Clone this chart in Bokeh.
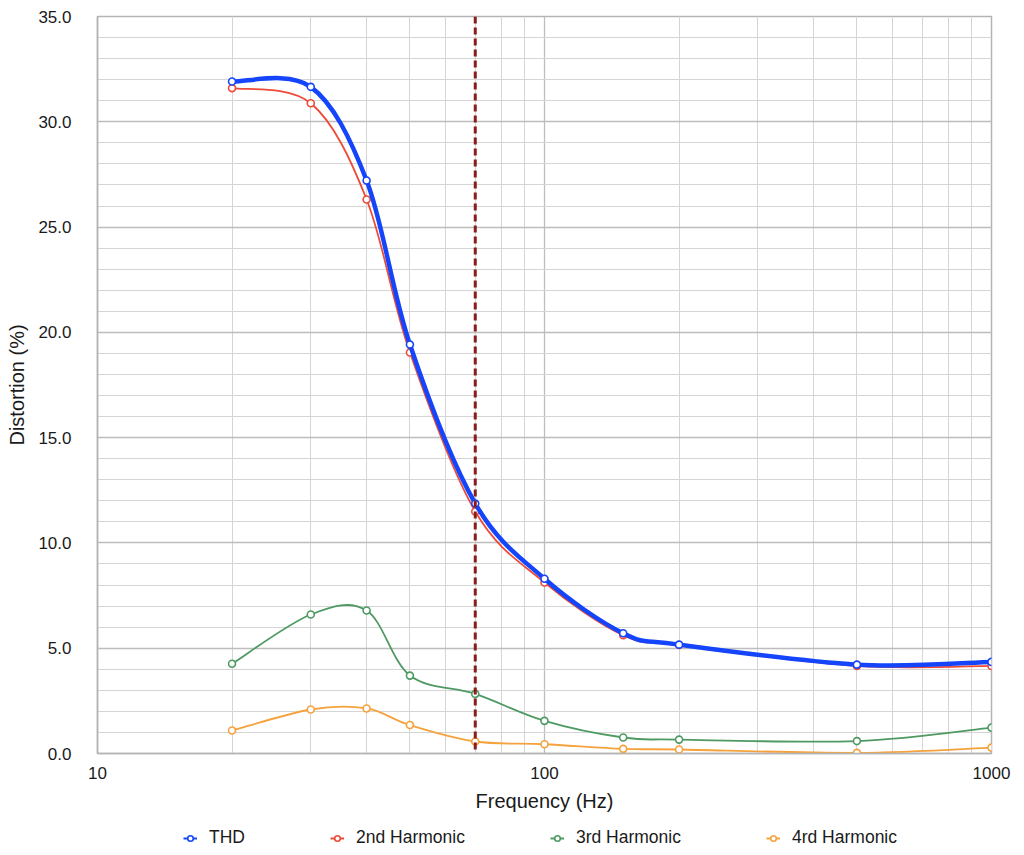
import numpy as np
from bokeh.plotting import figure
from bokeh.layouts import column
from bokeh.models import (Span, Legend, LegendItem, SingleIntervalTicker, FixedTicker,
                          PrintfTickFormatter, ColumnDataSource, Range1d)
from bokeh.embed import file_html
from bokeh.resources import INLINE

# ---------------- data ----------------
freq = [20, 30, 40, 50, 70, 100, 150, 200, 500, 1000]
thd = [31.91, 31.66, 27.21, 19.42, 11.87, 8.30, 5.71, 5.17, 4.22, 4.35]
harm2 = [31.60, 30.88, 26.31, 19.04, 11.49, 8.12, 5.62, 5.15, 4.16, 4.16]
harm3 = [4.26, 6.60, 6.79, 3.70, 2.83, 1.55, 0.76, 0.66, 0.59, 1.23]
harm4 = [1.09, 2.09, 2.14, 1.35, 0.57, 0.44, 0.22, 0.19, 0.03, 0.28]
series_names = ["THD", "2nd Harmonic", "3rd Harmonic", "4rd Harmonic"]
series_colors = ["#1545FA", "#EE4A38", "#4E9A62", "#F5A23C"]
series_widths = [4.5, 1.8, 1.8, 1.8]
marker_freq = 70
x_major_ticks = [10, 100, 1000]
x_minor_ticks = [20, 30, 40, 50, 60, 70, 80, 90, 200, 300, 400, 500, 600, 700, 800, 900]

FONT = "Liberation Sans"
TXT = "#1a1a1a"

p = figure(width=1024, height=821, x_axis_type="log", x_range=(10, 1000), y_range=(0, 35),
           output_backend="svg", toolbar_location=None,
           min_border_left=97, min_border_right=33, min_border_top=16, min_border_bottom=68)
p.background_fill_color = "white"
p.border_fill_color = "white"
p.outline_line_color = "#b4b4b4"
p.outline_line_width = 1.5

# axes
p.xaxis.ticker = FixedTicker(ticks=x_major_ticks, minor_ticks=x_minor_ticks)
p.xaxis.formatter = PrintfTickFormatter(format="%d")
p.yaxis.ticker = SingleIntervalTicker(interval=5, num_minor_ticks=5)
p.yaxis.formatter = PrintfTickFormatter(format="%.1f")
for ax in (p.xaxis[0], p.yaxis[0]):
    ax.major_tick_line_color = None
    ax.minor_tick_line_color = None
    ax.axis_line_color = "#b4b4b4"
    ax.axis_line_width = 1.5
    ax.major_label_text_font = FONT
    ax.major_label_text_font_size = "17px"
    ax.major_label_text_color = TXT
    ax.axis_label_text_font = FONT
    ax.axis_label_text_font_size = "20px"
    ax.axis_label_text_font_style = "normal"
    ax.axis_label_text_color = TXT
p.xaxis.axis_label = "Frequency (Hz)"
p.yaxis.axis_label = "Distortion (%)"
p.xaxis.major_label_standoff = 7
p.xaxis.axis_label_standoff = 8
p.yaxis.major_label_standoff = 20
p.yaxis.axis_label_standoff = 7

# grids
for g in (p.xgrid[0], p.ygrid[0]):
    g.grid_line_color = "#bdbdbd"
    g.grid_line_width = 1.3
    g.minor_grid_line_color = "#d5d5d5"
    g.minor_grid_line_width = 1


def smooth_segments(xs, ys):
    """Cubic (Catmull-Rom) bezier control points in log-x space."""
    lx = np.log10(np.asarray(xs, dtype=float))
    yy = np.asarray(ys, dtype=float)
    P = np.column_stack([lx, yy])
    E = np.vstack([P[0], P, P[-1]])
    d = dict(x0=[], y0=[], x1=[], y1=[], cx0=[], cy0=[], cx1=[], cy1=[])
    for i in range(len(P) - 1):
        p0, p1, p2, p3 = E[i], E[i + 1], E[i + 2], E[i + 3]
        c1 = p1 + (p2 - p0) / 6.0
        c2 = p2 - (p3 - p1) / 6.0
        d["x0"].append(10 ** p1[0]); d["y0"].append(p1[1])
        d["x1"].append(10 ** p2[0]); d["y1"].append(p2[1])
        d["cx0"].append(10 ** c1[0]); d["cy0"].append(c1[1])
        d["cx1"].append(10 ** c2[0]); d["cy1"].append(c2[1])
    return ColumnDataSource(d)


all_series = [thd, harm2, harm3, harm4]
for idx in [3, 2, 1, 0]:
    vals = all_series[idx]
    col = series_colors[idx]
    src = smooth_segments(freq, vals)
    p.bezier(x0="x0", y0="y0", x1="x1", y1="y1", cx0="cx0", cy0="cy0", cx1="cx1", cy1="cy1",
             source=src, line_color=col, line_width=series_widths[idx])
    p.scatter(x=freq, y=vals, size=7, marker="circle", fill_color="white",
              line_color=col, line_width=1.6)

# vertical dashed marker line
p.add_layout(Span(location=marker_freq, dimension="height", line_color="#8B1C1C",
                  line_width=3, line_dash="7 4"))

# ---------------- legend strip (a second, axis-less figure) ----------------
# its ranges exclude the data, so only the legend glyphs are visible
lg = figure(width=1024, height=34, x_range=Range1d(0, 1), y_range=Range1d(-100, -99),
            output_backend="svg", toolbar_location=None,
            x_axis_location=None, y_axis_location=None,
            min_border_left=97, min_border_right=33, min_border_top=0, min_border_bottom=0)
lg.outline_line_color = None
lg.xgrid.visible = False
lg.ygrid.visible = False
lg.background_fill_color = "white"
lg.border_fill_color = "white"

items = []
for idx in range(4):
    col = series_colors[idx]
    ln = lg.line(x=freq, y=all_series[idx], line_color=col, line_width=2)
    sc = lg.scatter(x=freq, y=all_series[idx], size=7, marker="circle", fill_color="white",
                    line_color=col, line_width=1.6)
    items.append(LegendItem(label=series_names[idx], renderers=[ln, sc]))

legend = Legend(items=items, orientation="horizontal", location=(86, 7),
                border_line_color=None, background_fill_alpha=0, padding=0, margin=0,
                spacing=85, glyph_width=14, glyph_height=20, label_height=20,
                label_standoff=12, label_text_font=FONT, label_text_font_size="17.5px",
                label_text_color=TXT, label_text_baseline="middle")
lg.add_layout(legend)

layout = column(p, lg, spacing=0)
open("out.html", "w").write(file_html(layout, INLINE))
